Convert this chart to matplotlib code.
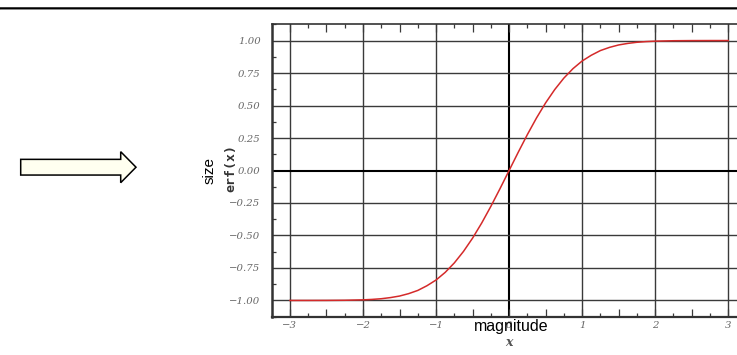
import numpy as np
import matplotlib
matplotlib.use("Agg")
import matplotlib.pyplot as plt
from matplotlib.patches import FancyArrow
from matplotlib.lines import Line2D

# erf(x) curve, values
x_vals = [-3.0, -2.75, -2.5, -2.25, -2.0, -1.875, -1.75, -1.625, -1.5, -1.375,
          -1.25, -1.125, -1.0, -0.875, -0.75, -0.625, -0.5, -0.375, -0.25, -0.125,
          0.0, 0.125, 0.25, 0.375, 0.5, 0.625, 0.75, 0.875, 1.0, 1.125,
          1.25, 1.375, 1.5, 1.625, 1.75, 1.875, 2.0, 2.25, 2.5, 2.75, 3.0]
y_vals = [-1.0, -0.9999, -0.9996, -0.9985, -0.9953, -0.9919, -0.9867, -0.9780, -0.9661, -0.9475,
          -0.9229, -0.8868, -0.8427, -0.7840, -0.7112, -0.6231, -0.5205, -0.4041, -0.2763, -0.1403,
          0.0, 0.1403, 0.2763, 0.4041, 0.5205, 0.6231, 0.7112, 0.7840, 0.8427, 0.8868,
          0.9229, 0.9475, 0.9661, 0.9780, 0.9867, 0.9919, 0.9953, 0.9985, 0.9996, 0.9999, 1.0]

x_ticks = [-3, -2, -1, 0, 1, 2, 3]
x_ticklabels = ["\u22123", "\u22122", "\u22121", "0", "1", "2", "3"]
y_ticks = [-1.0, -0.75, -0.5, -0.25, 0.0, 0.25, 0.5, 0.75, 1.0]
y_ticklabels = ["\u22121.00", "\u22120.75", "\u22120.50", "\u22120.25", "0.00",
                "0.25", "0.50", "0.75", "1.00"]

W, H = 737, 355
fig = plt.figure(figsize=(W / 100, H / 100), dpi=100)

# axes box in pixel terms
left, right, top, bottom = 271.7, 737, 24.3, 316.7
ax = fig.add_axes([left / W, 1 - bottom / H, (right - left) / W, (bottom - top) / H])
ax.set_xlim(-3.24, 3.12)
ax.set_ylim(-1.12, 1.122)

grid_c = "#3a3a3a"
for xv in x_ticks:
    ax.axvline(xv, color="black" if xv == 0 else grid_c,
               lw=1.5 if xv == 0 else 1.0, zorder=1)
for yv in y_ticks:
    ax.axhline(yv, color="black" if yv == 0 else grid_c,
               lw=1.5 if yv == 0 else 1.0, zorder=1)

ax.plot(x_vals, y_vals, color="#d42a2a", lw=1.1, zorder=3)

# x ticks: majors every 0.5 (labels only on integers), minors every 0.25
half_ticks = np.arange(-3, 3.01, 0.5)
ax.set_xticks(half_ticks)
ax.set_xticklabels([x_ticklabels[x_ticks.index(int(t))] if t == int(t) else ""
                    for t in half_ticks])
ax.set_xticks(np.arange(-3.25, 3.01, 0.25), minor=True)
ax.set_yticks(y_ticks)
ax.set_yticklabels(y_ticklabels)
ax.set_yticks(np.arange(-1.125, 1.13, 0.25), minor=True)

ax.tick_params(axis="x", which="major", direction="in", top=True, length=5.5,
               width=0.9, color=grid_c, pad=3)
ax.tick_params(axis="x", which="minor", direction="in", top=True, length=3,
               width=0.9, color=grid_c)
ax.tick_params(axis="y", which="major", direction="in", length=0, pad=8)
ax.tick_params(axis="y", which="minor", direction="in", length=3,
               width=0.9, color=grid_c)

for lab in ax.get_xticklabels() + ax.get_yticklabels():
    lab.set_family("DejaVu Serif")
    lab.set_style("italic")
    lab.set_size(7.3)
    lab.set_color("#666666")

ax.spines["right"].set_visible(False)
ax.spines["left"].set_linewidth(1.8)
ax.spines["bottom"].set_linewidth(1.6)
ax.spines["top"].set_linewidth(1.2)
for s in ["left", "bottom", "top"]:
    ax.spines[s].set_color("#333333")

# axis titles from the embedded picture
fig.text(509 / W, 1 - 342 / H, "x", family="DejaVu Serif", style="italic",
         weight="bold", size=9, color="#555555", ha="center", va="center")
fig.text(231 / W, 1 - 168 / H, "erf(x)", family="DejaVu Sans Mono", weight="bold",
         size=9.5, color="#333333", rotation=90, ha="center", va="center")

# overlaid labels
fig.text(210 / W, 1 - 171 / H, "size", family="Liberation Sans", size=11,
         color="black", rotation=90, ha="center", va="center")
fig.text(511 / W, 1 - 326 / H, "magnitude", family="Liberation Sans", size=11.5,
         color="black", ha="center", va="center", zorder=10)

# slide decorations: top rule and arrow
over = fig.add_axes([0, 0, 1, 1], facecolor="none")
over.set_xlim(0, W)
over.set_ylim(H, 0)
over.axis("off")
over.add_line(Line2D([0, W], [7.6, 7.6], color="black", lw=1.8))
over.add_line(Line2D([0, W], [9.2, 9.2], color="#999999", lw=0.6))
over.add_patch(FancyArrow(20.7, 167.2, 115.3, 0, width=15.7, head_width=31,
                          head_length=15.3, length_includes_head=True,
                          facecolor="#fffff0", edgecolor="black", lw=1.1))

fig.savefig("out.png", dpi=100)
